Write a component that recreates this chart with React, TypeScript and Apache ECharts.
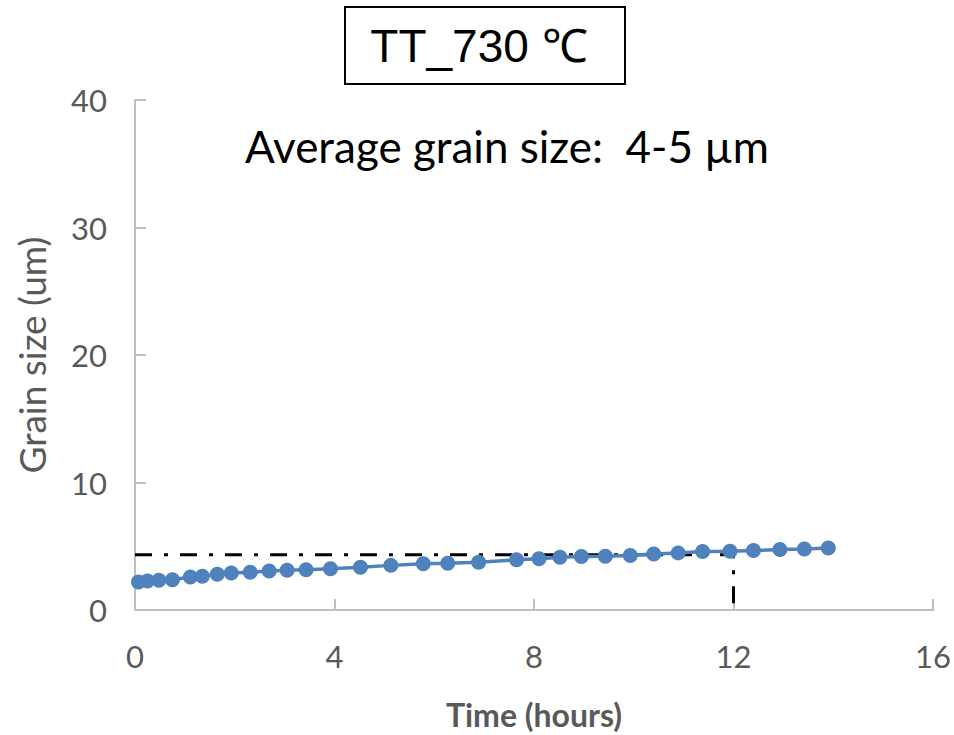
import React, { useEffect, useRef } from "react";
import * as echarts from "echarts";

const timeHours = [
  0.07, 0.25, 0.48, 0.75, 1.11, 1.35, 1.65, 1.93, 2.31, 2.69, 3.05, 3.43, 3.92,
  4.52, 5.13, 5.78, 6.27, 6.89, 7.65, 8.1, 8.52, 8.95, 9.43, 9.93, 10.4, 10.89,
  11.38, 11.93, 12.4, 12.93, 13.42, 13.9,
];
const grainSize = [
  2.2, 2.28, 2.33, 2.38, 2.59, 2.64, 2.8, 2.9, 2.97, 3.05, 3.11, 3.16, 3.24,
  3.36, 3.5, 3.63, 3.66, 3.75, 3.94, 4.02, 4.14, 4.19, 4.22, 4.27, 4.4, 4.48,
  4.58, 4.6, 4.66, 4.74, 4.79, 4.87,
];
const guideX = [0, 12, 12];
const guideY = [4.33, 4.33, 0];

const titleText = "TT_730 ℃";
const noteText = "Average grain size:  4-5 µm";
const xName = "Time (hours)";
const yName = "Grain size (um)";

const FONT = "Lato, 'Open Sans', sans-serif";
const GRAY = "#595959";

export default function App() {
  const ref = useRef<HTMLDivElement>(null);
  useEffect(() => {
    if (!ref.current) return;
    const chart = echarts.init(ref.current, undefined, { renderer: "svg" });
    chart.setOption({
      animation: false,
      backgroundColor: "#ffffff",
      grid: { left: 135, right: 19, top: 100, bottom: 120, containLabel: false },
      xAxis: {
        type: "value",
        min: 0,
        max: 16,
        interval: 4,
        name: xName,
        nameLocation: "middle",
        nameGap: 88,
        nameTextStyle: { fontFamily: FONT, fontSize: 32, fontWeight: "bold", color: GRAY },
        axisLine: { show: true, lineStyle: { color: "#BFBFBF", width: 2 } },
        axisTick: { show: true, inside: true, length: 11, lineStyle: { color: "#BFBFBF", width: 2 } },
        axisLabel: { fontFamily: FONT, fontSize: 31, color: GRAY, margin: 30 },
        splitLine: { show: false },
      },
      yAxis: {
        type: "value",
        min: 0,
        max: 40,
        interval: 10,
        name: yName,
        nameLocation: "middle",
        nameGap: 85,
        nameTextStyle: { fontFamily: FONT, fontSize: 37, color: GRAY },
        axisLine: { show: true, lineStyle: { color: "#BFBFBF", width: 2 } },
        axisTick: { show: true, inside: true, length: 11, lineStyle: { color: "#BFBFBF", width: 2 } },
        axisLabel: { fontFamily: FONT, fontSize: 31, color: GRAY, margin: 28 },
        splitLine: { show: false },
      },
      series: [
        {
          type: "line",
          data: guideX.map((x, i) => [x, guideY[i]]),
          symbol: "none",
          lineStyle: { color: "#000000", width: 3, type: [17, 12, 4, 12] },
          z: 1,
          silent: true,
        },
        {
          type: "line",
          data: timeHours.map((x, i) => [x, grainSize[i]]),
          symbol: "circle",
          symbolSize: 15,
          itemStyle: { color: "#4F81BD" },
          lineStyle: { color: "#4F81BD", width: 3.5 },
          z: 3,
        },
      ],
      graphic: [
        {
          type: "rect",
          shape: { x: 345, y: 7, width: 280, height: 77 },
          style: { fill: "#ffffff", stroke: "#000000", lineWidth: 2 },
        },
        {
          type: "text",
          x: 479,
          y: 46,
          style: {
            text: titleText,
            fontFamily: "'Liberation Sans', Arial, sans-serif",
            fontSize: 46,
            fill: "#000000",
            align: "center",
            verticalAlign: "middle",
          },
        },
        {
          type: "text",
          x: 507,
          y: 146,
          style: {
            text: noteText,
            fontFamily: FONT,
            fontSize: 44,
            fill: "#000000",
            align: "center",
            verticalAlign: "middle",
          },
        },
      ],
    });
    return () => chart.dispose();
  }, []);
  return <div ref={ref} style={{ width: 954, height: 735, position: "absolute", left: 0, top: 0 }} />;
}
